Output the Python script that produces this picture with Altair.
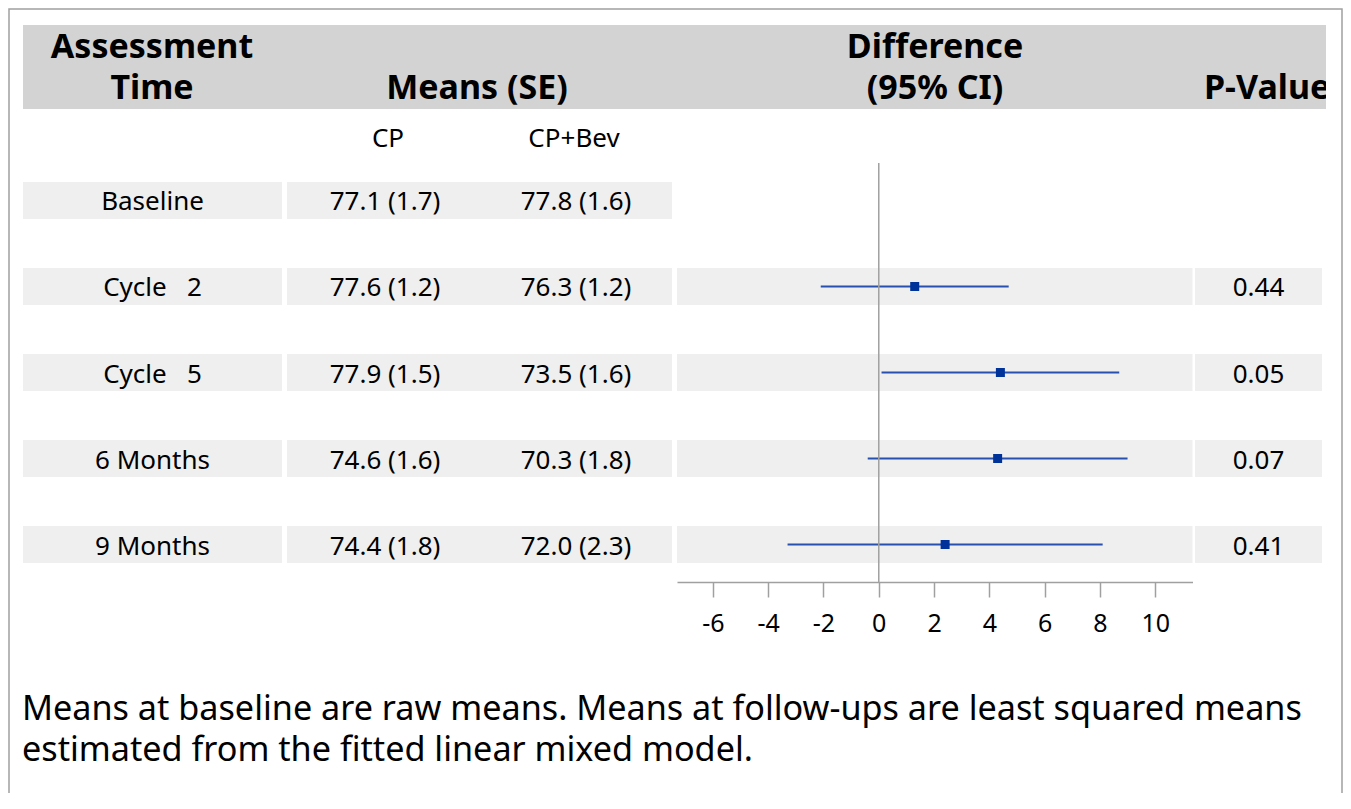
import altair as alt
import pandas as pd

# ---- data ----
rows = ["Baseline", "Cycle\u00a0\u00a0\u00a02", "Cycle\u00a0\u00a0\u00a05", "6 Months", "9 Months"]
cp_means = ["77.1 (1.7)", "77.6 (1.2)", "77.9 (1.5)", "74.6 (1.6)", "74.4 (1.8)"]
bev_means = ["77.8 (1.6)", "76.3 (1.2)", "73.5 (1.6)", "70.3 (1.8)", "72.0 (2.3)"]
diff_rows = rows[1:]
diff_est = [1.3, 4.4, 4.3, 2.4]
ci_low = [-2.1, 0.1, -0.4, -3.3]
ci_high = [4.7, 8.7, 9.0, 8.1]
p_values = ["0.44", "0.05", "0.07", "0.41"]
x_ticks = [-6, -4, -2, 0, 2, 4, 6, 8, 10]
x_domain = [-7.3, 11.35]
head_time = ["Assessment", "Time"]
head_means = "Means (SE)"
head_diff = ["Difference", "(95% CI)"]
head_p = "P-Value"
sub_heads = ["CP", "CP+Bev"]
footnote = ["Means at baseline are raw means. Means at follow-ups are least squared means",
            "estimated from the fitted linear mixed model."]

# ---- styles ----
FONT = "Noto Sans"
HEAD_FILL = "#d3d3d3"
CELL_FILL = "#efefef"
GRAY = "#a0a0a0"
LINE_BLUE = "#2851af"
SQ_BLUE = "#00339a"
W, H = 1335, 785
BODY = 26
HEADF = 34
FOOTF = 34.2

table = pd.DataFrame({"row": rows, "cp": cp_means, "bev": bev_means})
forest = pd.DataFrame({"row": diff_rows, "est": diff_est, "lo": ci_low, "hi": ci_high, "p": p_values})
one = pd.DataFrame({"k": [0]})

yscale = alt.Scale(domain=rows, range=[174, 555], paddingInner=0.57, paddingOuter=0)
Yband = alt.Y("row:N", scale=yscale, axis=None)
Yc = alt.Y("row:N", scale=yscale, axis=None, bandPosition=0.5)
xscale = alt.Scale(domain=x_domain, range=[669, 1184.5], nice=False, zero=False)
xaxis = alt.Axis(
    values=x_ticks, orient="bottom", offset=-211, tickSize=15, tickWidth=1.5,
    tickColor=GRAY, domainColor=GRAY, domainWidth=1.5, labelFont=FONT,
    labelFontSize=25, labelColor="black", labelPadding=14, grid=False,
    title=None, labelFlush=False, labelOverlap=False,
    labelExpr="datum.value < 0 ? '-' + abs(datum.value) : '' + datum.value")


def text_layer(label, x, y, size, bold=False, align="center"):
    return alt.Chart(pd.DataFrame({"t": [label]})).mark_text(
        font=FONT, fontSize=size, fontWeight="bold" if bold else "normal",
        align=align, baseline="middle", color="black"
    ).encode(x=alt.value(x), y=alt.value(y), text="t:N")


frame = alt.Chart(one).mark_rect(fillOpacity=0, stroke=GRAY, strokeWidth=1.5).encode(
    x=alt.value(1), x2=alt.value(1334), y=alt.value(1), y2=alt.value(830))

head_band = alt.Chart(one).mark_rect(color=HEAD_FILL).encode(
    x=alt.value(15), x2=alt.value(1318), y=alt.value(17), y2=alt.value(101))

headers = [
    text_layer(head_time[0], 144, 39.5, HEADF, True),
    text_layer(head_time[1], 144, 81, HEADF, True),
    text_layer(head_means, 469, 81, HEADF, True),
    text_layer(head_diff[0], 927, 39.5, HEADF, True),
    text_layer(head_diff[1], 927, 81, HEADF, True),
    text_layer(head_p, 1196, 81, HEADF, True, align="left"),
]
cover = alt.Chart(one).mark_rect(color="white").encode(
    x=alt.value(1318), x2=alt.value(1333), y=alt.value(17), y2=alt.value(101))

subs = [
    text_layer(sub_heads[0], 380, 131, BODY),
    text_layer(sub_heads[1], 566, 131, BODY),
]

label_cells = alt.Chart(table).mark_rect(color=CELL_FILL).encode(
    x=alt.value(15), x2=alt.value(274), y=Yband)
mean_cells = alt.Chart(table).mark_rect(color=CELL_FILL).encode(
    x=alt.value(279), x2=alt.value(664), y=Yband)
forest_cells = alt.Chart(forest).mark_rect(color=CELL_FILL).encode(
    x=alt.value(669), x2=alt.value(1184.5), y=Yband)
p_cells = alt.Chart(forest).mark_rect(color=CELL_FILL).encode(
    x=alt.value(1187), x2=alt.value(1314), y=Yband)


def col_text(df, field, x):
    return alt.Chart(df).mark_text(font=FONT, fontSize=BODY, align="center",
                                   baseline="middle", color="black", dy=2).encode(
        x=alt.value(x), y=Yc, text=f"{field}:N")


label_txt = col_text(table, "row", 144.5)
cp_txt = col_text(table, "cp", 377)
bev_txt = col_text(table, "bev", 568)
p_txt = col_text(forest, "p", 1250.5)

ci = alt.Chart(forest).mark_rule(color=LINE_BLUE, strokeWidth=2).encode(
    x=alt.X("lo:Q", scale=xscale, axis=xaxis), x2="hi:Q", y=Yc)

zero_line = alt.Chart(one).mark_rule(color=GRAY, strokeWidth=1.5).encode(
    x=alt.X(datum=0, scale=xscale), y=alt.value(155), y2=alt.value(574))

squares = alt.Chart(forest).mark_square(size=81, color=SQ_BLUE, filled=True, opacity=1).encode(
    x=alt.X("est:Q", scale=xscale), y=Yc)

foot = alt.Chart(one).mark_text(
    text=footnote, font=FONT, fontSize=FOOTF, lineHeight=41, align="left",
    baseline="middle", color="black"
).encode(x=alt.value(14), y=alt.value(702))

chart = alt.layer(
    frame, head_band, *headers, cover, *subs,
    label_cells, mean_cells, forest_cells, p_cells,
    label_txt, cp_txt, bev_txt, p_txt,
    ci, zero_line, squares, foot
).properties(
    width=W, height=H, padding=0, autosize=alt.AutoSizeParams(type="none")
).configure_view(stroke="transparent")

chart.save("out.html", embed_options={"renderer": "svg", "actions": False})
